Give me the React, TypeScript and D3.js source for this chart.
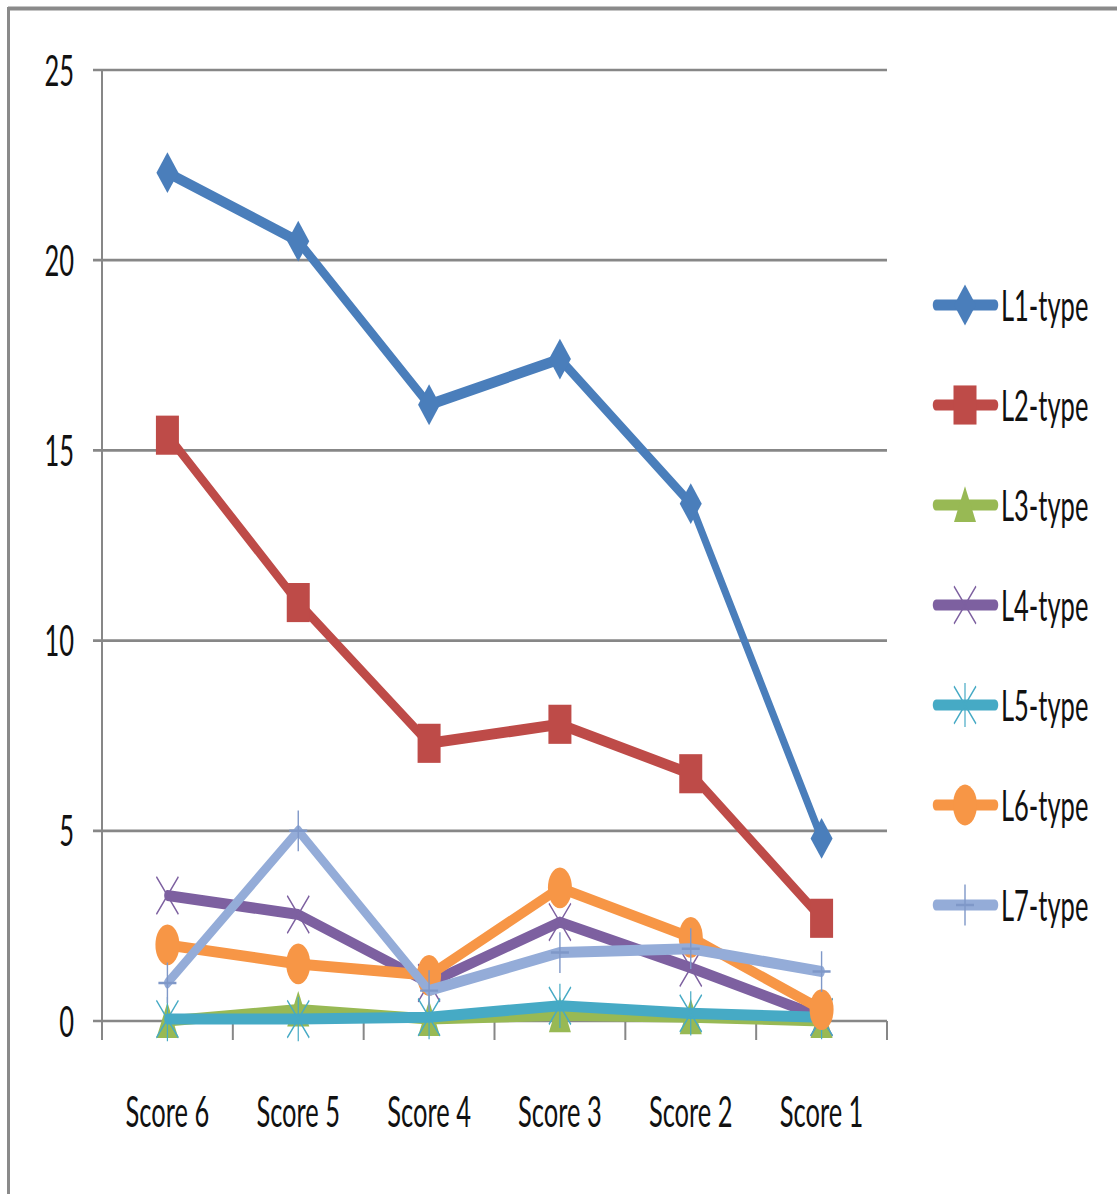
import * as d3 from "d3";

// the reference is a vertically stretched Excel chart, so everything is drawn
// in an unstretched space and scaled by K on y
const K = 1.7;

const categories = ["Score 6", "Score 5", "Score 4", "Score 3", "Score 2", "Score 1"];
const seriesNames = ["L1-type", "L2-type", "L3-type", "L4-type", "L5-type", "L6-type", "L7-type"];
const l1 = [22.3, 20.5, 16.2, 17.4, 13.6, 4.8];
const l2 = [15.4, 11.0, 7.3, 7.8, 6.5, 2.7];
const l3 = [0.0, 0.3, 0.05, 0.15, 0.1, 0.0];
const l4 = [3.3, 2.8, 1.0, 2.6, 1.4, 0.1];
const l5 = [0.05, 0.05, 0.1, 0.4, 0.2, 0.1];
const l6 = [2.0, 1.5, 1.2, 3.5, 2.2, 0.3];
const l7 = [1.0, 5.0, 0.8, 1.8, 1.9, 1.3];
const yTicks = [0, 5, 10, 15, 20, 25];

const colors = ["#4a7ebb", "#be4b48", "#98b954", "#7d60a0", "#46aac5", "#f79646", "#94acd8"];
const markerKinds = ["diamond", "square", "triangle", "x", "star", "circle", "plus"];
const allValues = [l1, l2, l3, l4, l5, l6, l7];

const FONT = "Lato, 'Open Sans', sans-serif";

function Marker({ kind, cx, cy, color }: { kind: string; cx: number; cy: number; color: string }) {
  const s = 11;
  switch (kind) {
    case "diamond":
      return <path d={`M${cx},${cy - s - 1}L${cx + s},${cy}L${cx},${cy + s + 1}L${cx - s},${cy}Z`} fill={color} />;
    case "square":
      return <rect x={cx - 11.5} y={cy - 11.5} width={23} height={23} fill={color} />;
    case "triangle":
      return <path d={`M${cx},${cy - 11}L${cx + 11},${cy + 10}L${cx - 11},${cy + 10}Z`} fill={color} />;
    case "circle":
      return <circle cx={cx} cy={cy} r={12} fill={color} />;
    case "x":
      return (
        <path d={`M${cx - s},${cy - s}L${cx + s},${cy + s}M${cx + s},${cy - s}L${cx - s},${cy + s}`}
          stroke={color} strokeWidth={1.2} fill="none" />
      );
    case "star":
      return (
        <path d={`M${cx - s},${cy - s}L${cx + s},${cy + s}M${cx + s},${cy - s}L${cx - s},${cy + s}M${cx},${cy - s - 2}L${cx},${cy + s + 2}`}
          stroke={color} strokeWidth={1.2} fill="none" />
      );
    default:
      return (
        <path d={`M${cx - 9},${cy}L${cx + 9},${cy}M${cx},${cy - 12}L${cx},${cy + 12}`}
          stroke="#7f98c8" strokeWidth={1.4} fill="none" />
      );
  }
}

export default function App() {
  const width = 1117;
  const height = 1194;
  const left = 102, right = 887, top = 70, bottom = 1021;

  const x = d3.scaleBand<string>().domain(categories).range([left, right]);
  const y = d3.scaleLinear().domain([0, 25]).range([bottom / K, top / K]);
  const cx = (c: string) => (x(c) ?? 0) + x.bandwidth() / 2;

  const line = d3.line<number>()
    .x((_, i) => cx(categories[i]))
    .y(d => y(d));

  const bounds = categories.map(c => x(c) ?? 0).concat([right]);

  return (
    <svg width={width} height={height} style={{ position: "absolute", left: 0, top: 0, background: "#fff" }}>
      <rect x={0} y={0} width={width} height={height} fill="#fff" />
      <line x1={8} x2={width} y1={8.5} y2={8.5} stroke="#8a8a8a" strokeWidth={4} />
      <line x1={8.5} x2={8.5} y1={7} y2={height} stroke="#8a8a8a" strokeWidth={3} />
      <g transform={`scale(1,${K})`}>
        {/* gridlines */}
        {yTicks.map(t => (
          <line key={"g" + t} x1={left - 9} x2={right} y1={y(t)} y2={y(t)} stroke="#878787" strokeWidth={1.6} />
        ))}
        <line x1={left} x2={left} y1={y(0)} y2={y(25)} stroke="#878787" strokeWidth={2} />
        {bounds.map((b, i) => (
          <line key={"t" + i} x1={b} x2={b} y1={y(0)} y2={y(0) + 19 / K} stroke="#878787" strokeWidth={2} />
        ))}
        {yTicks.map(t => (
          <text key={"yl" + t} x={74} y={y(t)} dy="0.36em" textAnchor="end"
            fontFamily={FONT} fontSize={25.5} fill="#111">{t}</text>
        ))}
        {categories.map(c => (
          <text key={c} x={cx(c)} y={1127 / K} textAnchor="middle"
            fontFamily={FONT} fontSize={25.5} fill="#111">{c}</text>
        ))}

        {/* series */}
        {allValues.map((vals, si) => (
          <g key={seriesNames[si]}>
            <path d={line(vals) ?? ""} fill="none" stroke={colors[si]} strokeWidth={6.5}
              strokeLinejoin="round" strokeLinecap="round" />
            {vals.map((v, i) => (
              <Marker key={i} kind={markerKinds[si]} cx={cx(categories[i])} cy={y(v)} color={colors[si]} />
            ))}
          </g>
        ))}

        {/* legend */}
        {seriesNames.map((name, i) => {
          const ly = (305 + i * 100) / K;
          return (
            <g key={"lg" + name}>
              <line x1={936} x2={995} y1={ly} y2={ly} stroke={colors[i]} strokeWidth={6.5} strokeLinecap="round" />
              <Marker kind={markerKinds[i]} cx={965} cy={ly} color={colors[i]} />
              <text x={1001} y={ly} dy="0.36em" fontFamily={FONT} fontSize={25.5} fill="#111">{name}</text>
            </g>
          );
        })}
      </g>
    </svg>
  );
}
